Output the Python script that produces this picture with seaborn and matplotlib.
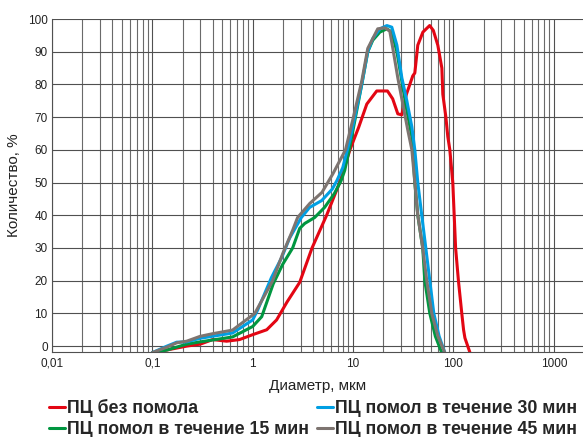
import numpy as np
import pandas as pd
import matplotlib
matplotlib.use("Agg")
import matplotlib.pyplot as plt
import seaborn as sns
from matplotlib.ticker import FixedLocator, FuncFormatter, LogLocator

# Particle size distribution
x_red = [0.105, 0.15, 0.22, 0.3, 0.4, 0.55, 0.74, 1.0, 1.38, 1.73, 2.2, 2.94, 3.9, 5.45,
         7.35, 9.3, 11.4, 13.7, 17.2, 22, 24.8, 27.9, 30.5, 34, 39.3, 41.2, 44.1, 49.6,
         57.9, 63, 69.8, 76.6, 78.3, 84, 87.8, 92, 98.4, 105, 112, 121, 126, 130, 146]
y_red = [-2, -1, 0, 0.6, 2, 1.5, 2, 3.5, 5, 8, 13.5, 19.5, 30, 40,
         50, 60, 67, 74, 78, 78, 75.6, 71, 70.7, 77, 82.6, 83.5, 92, 96,
         98, 96.5, 92, 85, 77, 70, 64, 60, 50, 30, 20, 10, 5, 2.5, -2]

x_15 = [0.1, 0.14, 0.175, 0.22, 0.3, 0.63, 1.0, 1.23, 1.6, 1.99, 2.5, 2.94, 3.3, 4.14,
        5.2, 6.5, 7.6, 8.25, 9.25, 12.2, 14.0, 15.7, 18.5, 21.7, 24.3, 27.3, 30.6, 34.3,
        38.5, 41.2, 44.1, 49.4, 51.8, 58.1, 66, 76.4]
y_15 = [-2, -1.2, -0.3, 0.6, 1.3, 2.8, 6, 9, 19, 25, 30, 36, 37.5, 39.3,
        42.4, 46.6, 50.6, 53.7, 60.7, 80, 90, 93.5, 96, 97, 96, 90, 81, 72,
        64, 50, 40, 30, 20, 10, 3, -2]

x_30 = [0.1, 0.14, 0.175, 0.22, 0.3, 0.63, 1.0, 1.12, 1.54, 1.94, 2.33, 3.05, 3.69, 4.87,
        6.2, 6.9, 7.9, 8.6, 9.3, 12.2, 14.0, 15.7, 18.5, 21.7, 24.3, 27.3, 30.6, 34.3,
        38.5, 41.2, 44.1, 48.3, 53.0, 58.1, 63.7, 72, 82]
y_30 = [-2, 0, 1.2, 1.3, 2.4, 4, 8, 11, 21, 27, 33, 39.3, 42.4, 44.5,
        48, 50.6, 54.6, 59, 63, 80, 90, 94, 97, 98, 97.5, 92, 82, 75,
        67, 60, 50, 40, 30, 20, 10, 3, -2]

x_45 = [0.1, 0.14, 0.175, 0.22, 0.3, 0.4, 0.63, 1.05, 1.58, 2.0, 2.5, 2.8, 3.7, 4.9,
        6.3, 8.4, 9.9, 12.2, 14.0, 15.7, 17.6, 20.7, 23.2, 24.9, 27.9, 31.3, 35.1, 38.5,
        41.2, 44.1, 49.4, 54.2, 60.8, 70, 81.9]
y_45 = [-2, -0.3, 1, 1.5, 3, 3.8, 4.9, 10, 20, 28.4, 35.4, 39.3, 43.6, 47,
        52.7, 60, 69, 81, 91, 94, 97, 97.3, 96.3, 91, 82, 74, 66, 60,
        50, 40, 30, 20, 10, 3, -2]

labels = ["ПЦ без помола", "ПЦ помол в течение 15 мин",
          "ПЦ помол в течение 30 мин", "ПЦ помол в течение 45 мин"]
colors = ["#e30613", "#009640", "#009fe3", "#7d7470"]

series = [(x_red, y_red), (x_15, y_15), (x_30, y_30), (x_45, y_45)]
df = pd.concat([pd.DataFrame({"d": xs, "q": ys, "name": lab})
                for (xs, ys), lab in zip(series, labels)], ignore_index=True)

sns.set_style("white")
plt.rcParams["font.family"] = ["Liberation Sans", "DejaVu Sans"]

fig = plt.figure(figsize=(5.83, 4.37), dpi=100)
ax = fig.add_axes([0.089, 0.1945, 0.911, 0.762])

sns.lineplot(data=df, x="d", y="q", hue="name", hue_order=labels,
             palette=dict(zip(labels, colors)), estimator=None, sort=False,
             linewidth=2.2, ax=ax)

ax.set_xscale("log")
ax.set_xlim(0.01, 1950)
ax.set_ylim(-1.8, 100)

ax.xaxis.set_major_locator(FixedLocator([0.01, 0.1, 1, 10, 100, 1000]))
ax.xaxis.set_minor_locator(LogLocator(base=10, subs=np.arange(2, 10)))
ax.xaxis.set_major_formatter(FuncFormatter(lambda v, p: ("%g" % v).replace(".", ",")))
ax.set_yticks(np.arange(0, 101, 10))

ax.grid(True, which="major", color="#505050", linewidth=0.8)
ax.grid(True, which="minor", axis="x", color="#6a6a6a", linewidth=0.8)
ax.set_axisbelow(True)
ax.tick_params(which="both", length=0, labelsize=8.5, colors="#222222")
ax.tick_params(axis="y", pad=3)
ax.tick_params(axis="x", pad=4)

for s in ["top", "right"]:
    ax.spines[s].set_visible(False)
ax.spines["left"].set_color("#505050")
ax.spines["bottom"].set_color("#505050")
ax.spines["left"].set_linewidth(0.8)
ax.spines["bottom"].set_linewidth(0.8)

ax.set_xlabel("Диаметр, мкм", fontsize=11, color="#222222", labelpad=7)
ax.set_ylabel("Количество, %", fontsize=11, color="#222222", labelpad=5)

handles, labs = ax.get_legend_handles_labels()
ax.legend(handles, labs, ncol=2, loc="upper left", bbox_to_anchor=(0.084, 0.086),
          bbox_transform=fig.transFigure, frameon=False, borderpad=0, borderaxespad=0,
          handlelength=0.9, handletextpad=0.1, columnspacing=0.45, labelspacing=0.22,
          prop={"weight": "bold", "size": 12.8})

fig.savefig("out.png", dpi=100)
